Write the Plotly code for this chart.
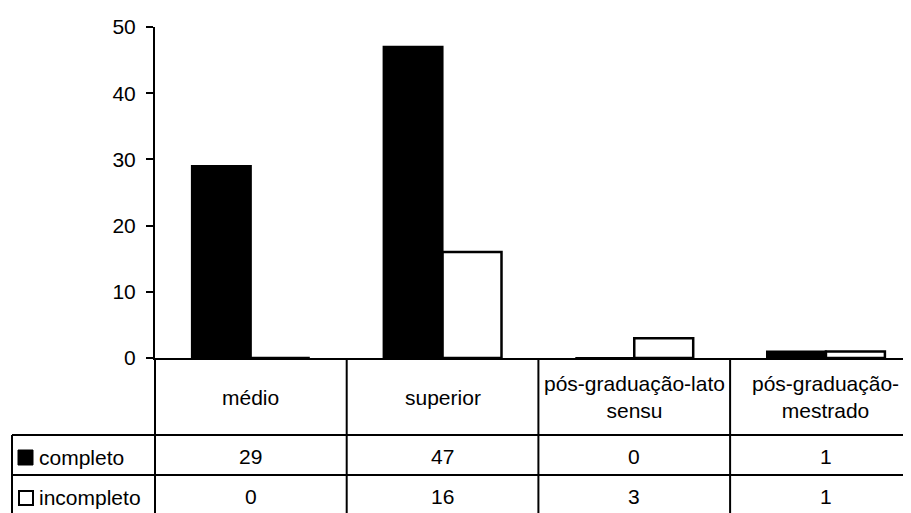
import plotly.graph_objects as go

categories = ["médio", "superior", "pós-graduação-lato sensu", "pós-graduação-mestrado"]
header_labels = ["médio", "superior", "pós-graduação-lato<br>sensu", "pós-graduação-<br>mestrado"]
series_names = ["completo", "incompleto"]
completo = [29, 47, 0, 1]
incompleto = [0, 16, 3, 1]
y_ticks = [0, 10, 20, 30, 40, 50]

W, H = 911, 513
OFF = 8  # page body margin
# screen-pixel targets
S_LEFT, S_TOP, S_ZERO = 155, 27, 358
L = S_LEFT - OFF
T = S_TOP - OFF
B = H - (S_ZERO - OFF)
plot_h = H - T - B
plot_w = W - L
cat_w = 191.7

def py(p):
    return (S_ZERO - p) / plot_h

def px(p):
    return (p - S_LEFT) / plot_w

FONT = "Liberation Sans, Arial, sans-serif"
FS = 21

fig = go.Figure()
fig.add_trace(go.Bar(x=categories, y=completo, name=series_names[0],
                     marker=dict(color="black", line=dict(color="black", width=2))))
fig.add_trace(go.Bar(x=categories, y=incompleto, name=series_names[1],
                     marker=dict(color="white", line=dict(color="black", width=2.5))))

shapes = []
line = dict(color="black", width=2)
S_BOTTOM = 520
for yp in (435, 475):
    shapes.append(dict(type="line", xref="paper", yref="paper", x0=px(12), x1=1,
                       y0=py(yp), y1=py(yp), line=line))
shapes.append(dict(type="line", xref="paper", yref="paper", x0=px(12), x1=px(12),
                   y0=py(435), y1=py(S_BOTTOM), line=line))
shapes.append(dict(type="line", xref="paper", yref="paper", x0=0, x1=0,
                   y0=0, y1=py(S_BOTTOM), line=line))
for i in range(len(categories) - 1):
    shapes.append(dict(type="line", xref="x", yref="paper", x0=i + 0.5, x1=i + 0.5,
                       y0=0, y1=py(S_BOTTOM), line=line))
# legend keys
shapes.append(dict(type="rect", xref="paper", yref="paper", x0=px(18), x1=px(33),
                   y0=py(465), y1=py(450), fillcolor="black", line=dict(color="black", width=1)))
shapes.append(dict(type="rect", xref="paper", yref="paper", x0=px(19), x1=px(33),
                   y0=py(505), y1=py(491), fillcolor="white", line=dict(color="black", width=2)))

ann = []
def txt(x, xref, y, text, xanchor="center"):
    ann.append(dict(x=x, xref=xref, y=y, yref="paper", text=text,
                    showarrow=False, xanchor=xanchor, yanchor="middle",
                    font=dict(size=FS, color="black", family=FONT)))

for i, lab in enumerate(header_labels):
    txt(categories[i], "x", py(397), lab)
    txt(categories[i], "x", py(456), str(completo[i]))
    txt(categories[i], "x", py(496), str(incompleto[i]))
for name, yp in zip(series_names, (457, 497)):
    txt(px(37), "paper", py(yp), name, xanchor="left")

fig.update_layout(
    width=W, height=H,
    margin=dict(l=L, r=0, t=T, b=B, pad=0),
    paper_bgcolor="white", plot_bgcolor="white",
    barmode="group", bargap=0.385, bargroupgap=0,
    showlegend=False,
    font=dict(family=FONT, size=FS, color="black"),
    shapes=shapes, annotations=ann,
    xaxis=dict(range=[-0.5, -0.5 + plot_w / cat_w], showticklabels=False, ticks="",
               showline=True, linecolor="black", linewidth=2, showgrid=False, zeroline=False),
    yaxis=dict(range=[0, 50], tickvals=y_ticks, ticks="outside", ticklen=7, tickwidth=2,
               tickcolor="black", showline=True, linecolor="black", linewidth=2,
               showgrid=False, zeroline=False, ticklabelstandoff=6,
               tickfont=dict(size=FS, family=FONT, color="black")),
)

fig.write_html("out.html")
